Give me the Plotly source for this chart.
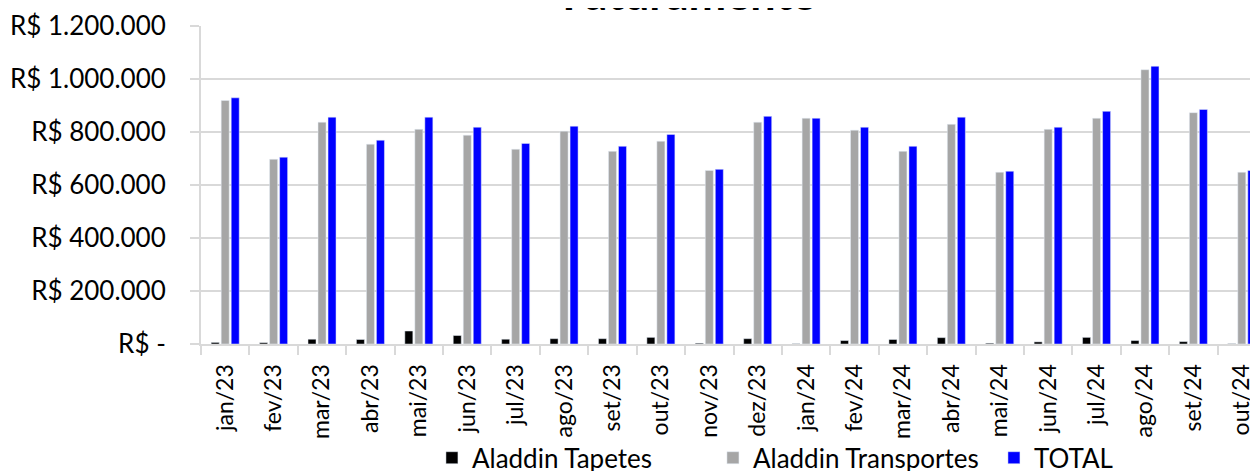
import plotly.graph_objects as go

categories = ["jan/23", "fev/23", "mar/23", "abr/23", "mai/23", "jun/23", "jul/23", "ago/23",
              "set/23", "out/23", "nov/23", "dez/23", "jan/24", "fev/24", "mar/24", "abr/24",
              "mai/24", "jun/24", "jul/24", "ago/24", "set/24", "out/24"]

tapetes = [6000, 5000, 18000, 17000, 49000, 32000, 18000, 20000, 20000, 25000, 3000, 20000,
           1000, 13000, 17000, 24000, 3000, 8000, 25000, 13000, 9000, 1000]

transportes = [919000, 697000, 837000, 754000, 810000, 788000, 735000, 803000, 727000, 765000,
               655000, 837000, 852000, 807000, 727000, 829000, 648000, 810000, 852000, 1035000,
               873000, 648000]

total = [929000, 705000, 856000, 769000, 856000, 818000, 757000, 822000, 746000, 791000,
         659000, 859000, 852000, 818000, 746000, 856000, 652000, 818000, 878000, 1048000,
         885000, 655000]

y_tickvals = [0, 200000, 400000, 600000, 800000, 1000000, 1200000]
y_ticktext = ["R$ -", "R$ 200.000", "R$ 400.000", "R$ 600.000", "R$ 800.000",
              "R$ 1.000.000", "R$ 1.200.000"]

FONT = "Lato"
GRID = "#D9D9D9"

fig = go.Figure()
fig.add_trace(go.Bar(x=categories, y=tapetes, name="Aladdin Tapetes", marker_color="#000000"))
fig.add_trace(go.Bar(x=categories, y=transportes, name="Aladdin Transportes", marker_color="#A6A6A6"))
fig.add_trace(go.Bar(x=categories, y=total, name="TOTAL", marker_color="#0000FF"))

n = len(categories)
fig.update_layout(
    width=1258, height=471,
    margin=dict(l=193, r=0, t=18, b=135, autoexpand=False),
    paper_bgcolor="white", plot_bgcolor="white",
    barmode="group", bargap=0.38, bargroupgap=0.2,
    font=dict(family=FONT, color="#000000", size=26),
    title=dict(text="<b>Faturamento</b>", x=682 / 1258, xanchor="center",
               xref="container", yref="container", y=0.995, yanchor="bottom",
               font=dict(family=FONT, size=45, color="#000000")),
    legend=dict(orientation="h", xref="container", yref="container",
                x=0.337, xanchor="left", y=0.045, yanchor="middle",
                bgcolor="rgba(0,0,0,0)",
                font=dict(family=FONT, size=26, color="#000000"),
                entrywidth=236, traceorder="normal"),
    xaxis=dict(type="category", range=[-0.5, n - 0.5], automargin=False,
               tickson="boundaries", ticks="outside", ticklen=9, tickcolor=GRID, tickwidth=2,
               showline=True, linecolor=GRID, linewidth=2, showgrid=False,
               tickangle=-90, ticklabelstandoff=9,
               tickfont=dict(family=FONT, size=23, color="#000000")),
    yaxis=dict(range=[0, 1200000], tickvals=y_tickvals, ticktext=y_ticktext, automargin=False,
               showgrid=True, gridcolor=GRID, gridwidth=1.5,
               showline=True, linecolor=GRID, linewidth=2,
               ticks="outside", ticklen=9, tickcolor=GRID, tickwidth=2,
               ticklabelstandoff=19, zeroline=False,
               tickfont=dict(family=FONT, size=26, color="#000000")),
)

fig.write_html("out.html")
